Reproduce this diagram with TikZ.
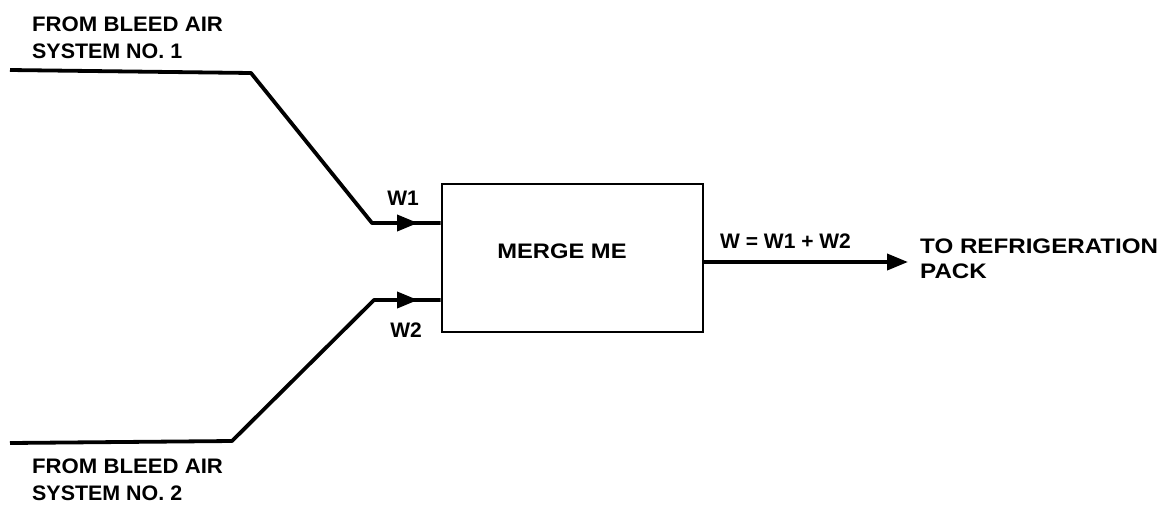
\documentclass[tikz,border=0pt]{standalone}
\usepackage{graphicx}
\usepackage{fontspec}
\setmainfont{Liberation Sans}
\usetikzlibrary{arrows.meta,calc}
\begin{document}
\begin{tikzpicture}[x=1pt,y=-1pt,
  lbl/.style={font=\bfseries\fontsize{21}{27}\selectfont, inner sep=0pt, align=left},
  flow/.style={line width=3.8pt, line join=round},
  tip/.style={-{Triangle[length=21pt,width=16pt]}},
  mbox/.style={draw, line width=2.8pt, minimum width=261pt, minimum height=148pt, inner sep=0pt}]
\useasboundingbox (0,0) rectangle (1166,507);
\node[mbox] (box) at (572.5,258) {};
\node[lbl] (mtxt) at (562,251) {\scalebox{1.13}[1]{MERGE ME}};
% input 1
\coordinate (a1) at (10,70);
\coordinate (b1) at (251,73);
\coordinate (c1) at (372,223);
\coordinate (m1) at (418,223);
\coordinate (e1) at ($(box.west)+(0,-35)$);
\draw[flow] (a1) -- (b1) -- (c1) -- (e1);
\draw[flow,tip] (c1) -- (m1);
% input 2
\coordinate (a2) at (10,443);
\coordinate (b2) at (232,441);
\coordinate (c2) at (374,300);
\coordinate (m2) at (418,300);
\coordinate (e2) at ($(box.west)+(0,42)$);
\draw[flow] (a2) -- (b2) -- (c2) -- (e2);
\draw[flow,tip] (c2) -- (m2);
% output
\coordinate (o1) at ($(box.east)+(0,4)$);
\coordinate (o2) at (908,262);
\draw[flow,tip] (o1) -- (o2);
% labels
\node[lbl, anchor=north west] (t1) at (32,17) {\scalebox{1.055}[1]{FROM BLEED AIR}\\\scalebox{1.02}[1]{SYSTEM NO. 1}};
\node[lbl, anchor=north west] (t2) at (32,459) {\scalebox{1.055}[1]{FROM BLEED AIR}\\\scalebox{1.02}[1]{SYSTEM NO. 2}};
\node[lbl] (w1) at (403,198) {W1};
\node[lbl] (w2) at (406,330) {W2};
\node[lbl, anchor=west] (w) at (720,241) {W = W1 + W2};
\node[lbl, anchor=north west, font=\bfseries\fontsize{21}{25}\selectfont] (out) at (920,239) {\scalebox{1.15}[1]{TO REFRIGERATION}\\\scalebox{1.15}[1]{PACK}};
\end{tikzpicture}
\end{document}
